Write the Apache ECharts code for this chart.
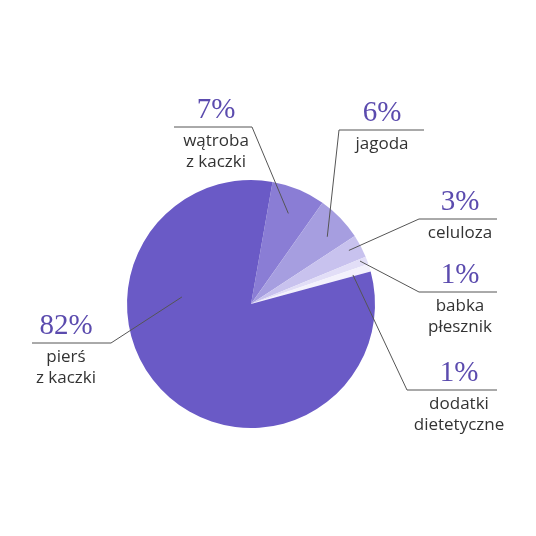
<!DOCTYPE html>
<html>
<head>
<meta charset="utf-8">
<script src="https://cdn.jsdelivr.net/npm/echarts@6/dist/echarts.min.js"></script>
<style>
  html, body { margin: 0; background: #fff; }
  #chart { width: 536px; height: 536px; }
</style>
</head>
<body>
<div id="chart"></div>
<script>
// slices, clockwise from the top
const names = ['wątroba\nz kaczki', 'jagoda', 'celuloza', 'babka\npłesznik', 'dodatki\ndietetyczne', 'pierś\nz kaczki'];
const shares = [7, 6, 3, 1, 1, 82];
const sliceColors = ['#8a7dd5', '#a69ee0', '#c8c2ee', '#e2def7', '#f3f1fc', '#6a5ac6'];

const cx = 251, cy = 304, R = 124;

// where each label sits: underline y, underline ends, text centre,
// and where the leader touches the slice (angle in deg, share of radius)
const spots = [
  { u: 127, near: 252, far: 174, tx: 216, ang: 67.6, f: 0.79 },
  { u: 130, near: 339, far: 424, tx: 382, ang: 41.4, f: 0.82 },
  { u: 219, near: 419, far: 497, tx: 460, ang: 28.7, f: 0.90 },
  { u: 292, near: 419, far: 497, tx: 460, ang: 21.5, f: 0.945 },
  { u: 390, near: 407, far: 497, tx: 459, ang: 15.9, f: 0.855 },
  { u: 343, near: 111, far: 32, tx: 66, ang: 174.2, f: 0.56 }
];

const chart = echarts.init(document.getElementById('chart'));

const base = {
  type: 'pie',
  center: [cx, cy],
  radius: R,
  startAngle: 80,
  clockwise: true,
  avoidLabelOverlap: false,
  silent: true,
  itemStyle: { borderWidth: 0 }
};

chart.setOption({
  animation: false,
  series: [
    // the slices
    Object.assign({}, base, {
      z: 1,
      label: { show: false },
      labelLine: { show: false },
      data: shares.map(function (v, i) {
        return { name: names[i], value: v, itemStyle: { color: sliceColors[i] } };
      })
    }),
    // same slices, see-through, on top: carries labels and leader lines
    Object.assign({}, base, {
      z: 5,
      label: {
        show: true,
        position: 'outside',
        formatter: function (p) {
          const lines = p.name.split('\n');
          let t = '{p|' + p.value + '%}\n{a|' + lines[0] + '}';
          if (lines[1]) t += '\n{b|' + lines[1] + '}';
          return t;
        },
        rich: {
          p: { fontFamily: 'Liberation Serif', fontSize: 29, color: '#5b4bae', lineHeight: 34, align: 'center' },
          a: { fontFamily: 'Open Sans', fontSize: 17, color: '#333', lineHeight: 28, align: 'center' },
          b: { fontFamily: 'Open Sans', fontSize: 17, color: '#333', lineHeight: 14, align: 'center' }
        }
      },
      labelLine: {
        show: true,
        showAbove: true,
        length: 10,
        length2: 10,
        lineStyle: { color: '#555', width: 1 }
      },
      labelLayout: function (p) {
        const s = spots[p.dataIndex];
        const a = s.ang * Math.PI / 180;
        const ax = cx + R * s.f * Math.cos(a);
        const ay = cy - R * s.f * Math.sin(a);
        return {
          x: s.tx,
          y: s.u - 34,
          align: 'center',
          verticalAlign: 'top',
          hideOverlap: false,
          labelLinePoints: [[ax, ay], [s.near, s.u], [s.far, s.u]]
        };
      },
      data: shares.map(function (v, i) {
        return { name: names[i], value: v, itemStyle: { color: 'rgba(0,0,0,0)' } };
      })
    })
  ]
});
</script>
</body>
</html>
